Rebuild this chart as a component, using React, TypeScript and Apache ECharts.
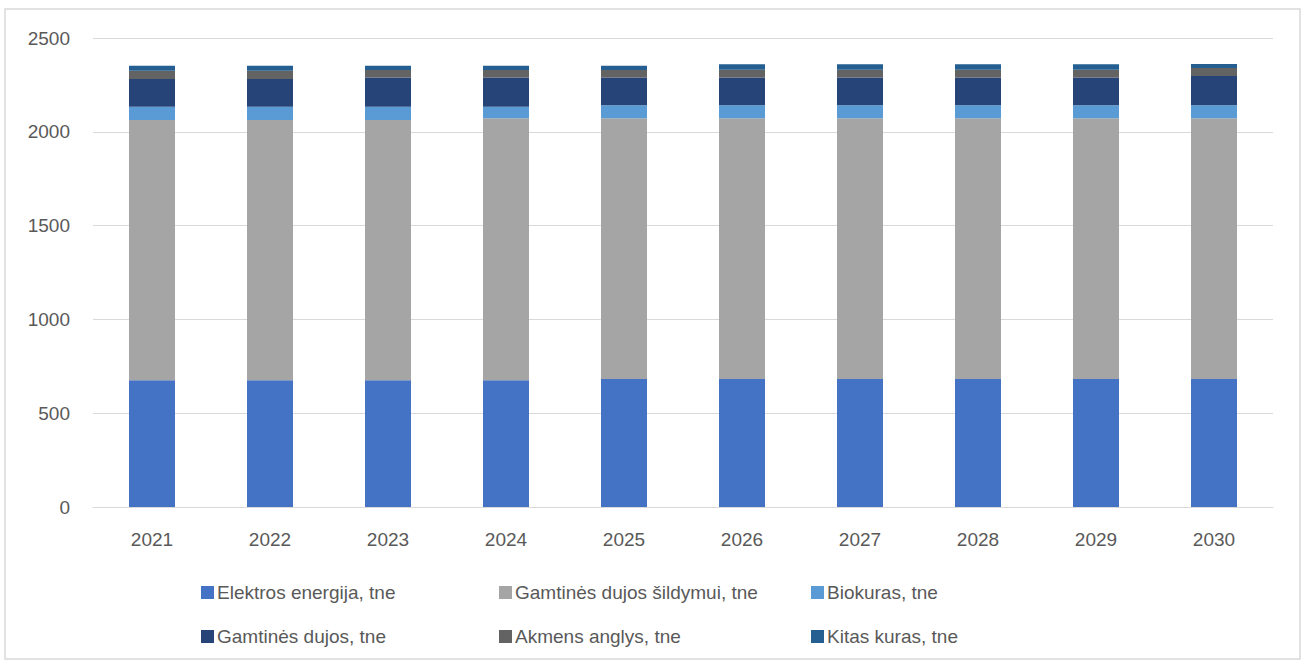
import React, { useEffect, useRef } from "react";
import * as echarts from "echarts";

const years = ["2021", "2022", "2023", "2024", "2025", "2026", "2027", "2028", "2029", "2030"];
const elektros = [675, 675, 675, 675, 682, 682, 682, 682, 682, 682];
const dujosSildymui = [1388, 1388, 1388, 1397, 1390, 1390, 1390, 1390, 1390, 1390];
const biokuras = [71, 71, 71, 62, 69, 69, 69, 69, 69, 69];
const dujos = [147, 147, 156, 156, 149, 149, 149, 149, 149, 156];
const anglys = [45, 45, 39, 39, 39, 41, 41, 41, 41, 43];
const kitas = [26, 26, 23, 23, 23, 29, 29, 29, 29, 21];

const seriesDefs = [
  { name: "Elektros energija, tne", data: elektros, color: "#4472C4" },
  { name: "Gamtinės dujos šildymui, tne", data: dujosSildymui, color: "#A5A5A5" },
  { name: "Biokuras, tne", data: biokuras, color: "#5B9BD5" },
  { name: "Gamtinės dujos, tne", data: dujos, color: "#264478" },
  { name: "Akmens anglys, tne", data: anglys, color: "#636363" },
  { name: "Kitas kuras, tne", data: kitas, color: "#255E91" },
];

const legendPos = [
  { left: 196, top: 578 },
  { left: 494, top: 578 },
  { left: 806, top: 578 },
  { left: 196, top: 622 },
  { left: 494, top: 622 },
  { left: 806, top: 622 },
];

const FONT = "'Liberation Sans Narrow', 'Liberation Sans', sans-serif";

export default function App() {
  const ref = useRef<HTMLDivElement>(null);
  useEffect(() => {
    document.body.style.margin = "0";
    const chart = echarts.init(ref.current!, null, { renderer: "svg" });
    chart.setOption({
      animation: false,
      backgroundColor: "#ffffff",
      textStyle: { fontFamily: FONT },
      graphic: [
        {
          type: "rect",
          shape: { x: 5, y: 9, width: 1295, height: 650 },
          style: { fill: "none", stroke: "#d9d9d9", lineWidth: 1.5 },
          silent: true,
        },
      ],
      grid: { left: 93, right: 35, top: 38, bottom: 158, containLabel: false },
      legend: seriesDefs.map((s, i) => ({
        data: [s.name],
        left: legendPos[i].left,
        top: legendPos[i].top,
        orient: "horizontal",
        itemWidth: 13,
        itemHeight: 13,
        itemGap: 4,
        icon: "rect",
        selectedMode: false,
        textStyle: { fontFamily: FONT, fontSize: 19, color: "#595959", padding: [0, 0, 0, -2] },
      })),
      xAxis: {
        type: "category",
        data: years,
        axisLine: { show: true, lineStyle: { color: "#d9d9d9", width: 1 } },
        axisTick: { show: false },
        axisLabel: { color: "#595959", fontSize: 19, fontFamily: FONT, margin: 23 },
      },
      yAxis: {
        type: "value",
        min: 0,
        max: 2500,
        interval: 500,
        axisLine: { show: false },
        axisTick: { show: false },
        axisLabel: {
          color: "#595959",
          fontSize: 19,
          fontFamily: FONT,
          margin: 23,
          formatter: (v: number) => String(v),
        },
        splitLine: { lineStyle: { color: "#d9d9d9", width: 1 } },
      },
      series: seriesDefs.map((s) => ({
        name: s.name,
        type: "bar",
        stack: "total",
        data: s.data,
        barWidth: 46,
        itemStyle: { color: s.color },
      })),
    });
    return () => chart.dispose();
  }, []);
  return <div ref={ref} style={{ width: 1308, height: 665 }} />;
}
